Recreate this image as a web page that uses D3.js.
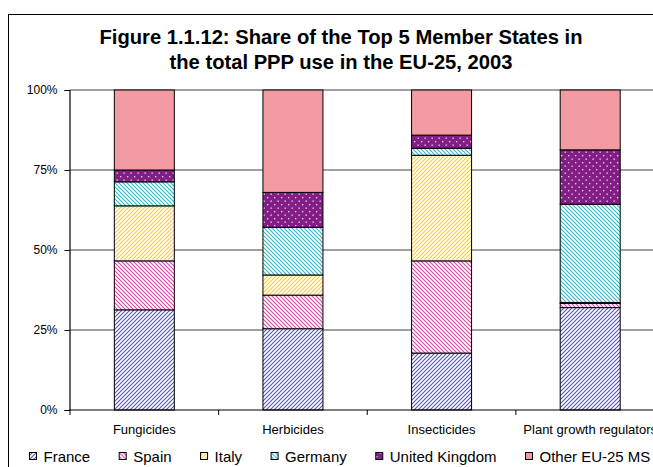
<!DOCTYPE html>
<html lang="en">
<head>
    <meta charset="UTF-8">
    <title>Share of the Top 5 Member States in PPP use</title>
    <script src="https://d3js.org/d3.v7.min.js"></script>
    <style>
        body { margin: 0; background: #fff; }
        svg { display: block; font-family: Arial, "Liberation Sans", sans-serif; }
    </style>
</head>
<body>
<svg id="chart" width="653" height="467"></svg>
<script>
// categories and series (shares in %)
const categories = ["Fungicides", "Herbicides", "Insecticides", "Plant growth regulators"];
const seriesNames = ["France", "Spain", "Italy", "Germany", "United Kingdom", "Other EU-25 MS"];
const france  = [31.3, 25.4, 17.8, 32.0];
const spain   = [15.3, 10.5, 28.8, 1.3];
const italy   = [17.2, 6.3, 33.0, 0.3];
const germany = [7.5, 14.9, 2.2, 30.7];
const uk      = [3.7, 10.9, 4.1, 17.0];
const other   = [25.0, 32.0, 14.1, 18.7];
const yTicks  = [0, 25, 50, 75, 100];
const titleLines = ["Figure 1.1.12: Share of the Top 5 Member States in", "the total PPP use in the EU-25, 2003"];

const svg = d3.select("#chart");

// table for the stack
const values = [france, spain, italy, germany, uk, other];
const table = categories.map((c, i) => {
    const row = { cat: c };
    seriesNames.forEach((s, j) => row[s] = values[j][i]);
    return row;
});
const stacked = d3.stack().keys(seriesNames)(table);

// patterns
const defs = svg.append("defs");
function hatch(id, color, dir) {
    const p = defs.append("pattern").attr("id", id)
        .attr("patternUnits", "userSpaceOnUse").attr("width", 4).attr("height", 4);
    p.append("rect").attr("width", 4).attr("height", 4).attr("fill", "#fff");
    const d = dir === "up"
        ? "M-1,1 L1,-1 M0,4 L4,0 M3,5 L5,3"
        : "M-1,3 L1,5 M0,0 L4,4 M3,-1 L5,1";
    p.append("path").attr("d", d).attr("stroke", color).attr("stroke-width", 1.1);
}
hatch("pFrance", "#5353a6", "up");
hatch("pSpain", "#d645ab", "down");
hatch("pItaly", "#f7d030", "up");
hatch("pGermany", "#36b5c8", "down");
const dots = defs.append("pattern").attr("id", "pUK")
    .attr("patternUnits", "userSpaceOnUse").attr("width", 7).attr("height", 7);
dots.append("rect").attr("width", 7).attr("height", 7).attr("fill", "#831e86");
dots.append("rect").attr("x", 1).attr("y", 1).attr("width", 1.3).attr("height", 1.3).attr("fill", "#f2d9f2");
dots.append("rect").attr("x", 4.5).attr("y", 4.5).attr("width", 1.3).attr("height", 1.3).attr("fill", "#f2d9f2");

const fills = {
    "France": "url(#pFrance)",
    "Spain": "url(#pSpain)",
    "Italy": "url(#pItaly)",
    "Germany": "url(#pGermany)",
    "United Kingdom": "url(#pUK)",
    "Other EU-25 MS": "#f39ba2"
};

// outer frame
svg.append("rect")
    .attr("x", 8.5).attr("y", 14.5).attr("width", 700).attr("height", 500)
    .attr("fill", "none").attr("stroke", "#000").attr("stroke-width", 1);

// title
svg.append("text")
    .attr("x", 341).attr("y", 44)
    .attr("text-anchor", "middle")
    .style("font-size", "20.2px").style("font-weight", "bold")
    .selectAll("tspan").data(titleLines).join("tspan")
    .attr("x", 341).attr("dy", (d, i) => i === 0 ? 0 : 25)
    .text(d => d);

// scales
const plot = { left: 70, right: 664.5, top: 90, bottom: 410 };
const x = d3.scaleBand().domain(categories).range([plot.left, plot.right]).padding(0);
const y = d3.scaleLinear().domain([0, 100]).range([plot.bottom, plot.top]);
const barW = 60;

// gridlines
svg.append("g").selectAll("line").data(yTicks.filter(t => t > 0)).join("line")
    .attr("x1", plot.left).attr("x2", plot.right)
    .attr("y1", d => y(d)).attr("y2", d => y(d))
    .attr("stroke", "#808080").attr("stroke-width", 1.5);

// bars
svg.append("g").selectAll("g").data(stacked).join("g")
    .attr("fill", d => fills[d.key])
    .selectAll("rect").data(d => d).join("rect")
    .attr("x", d => x(d.data.cat) + (x.bandwidth() - barW) / 2)
    .attr("y", d => y(d[1]))
    .attr("width", barW)
    .attr("height", d => y(d[0]) - y(d[1]))
    .attr("stroke", "#000").attr("stroke-width", 1);

// y axis
const yAxis = svg.append("g")
    .attr("transform", `translate(${plot.left - 0.5},0)`)
    .call(d3.axisLeft(y).tickValues(yTicks).tickSize(5).tickPadding(7).tickFormat(d => d + "%"));
yAxis.select(".domain").attr("stroke", "#000").attr("stroke-width", 1.2);
yAxis.selectAll(".tick line").attr("stroke", "#000");
yAxis.selectAll("text").style("font-size", "12px").attr("fill", "#000").attr("font-family", null);

// x axis: ticks at band boundaries
const xg = svg.append("g").attr("transform", `translate(0,${plot.bottom})`);
xg.append("line").attr("x1", plot.left - 1).attr("x2", plot.right)
    .attr("stroke", "#000").attr("stroke-width", 1.2);
xg.selectAll("line.tk").data(categories).join("line").attr("class", "tk")
    .attr("x1", d => x(d)).attr("x2", d => x(d))
    .attr("y1", 0).attr("y2", 5).attr("stroke", "#000");
xg.selectAll("text").data(categories).join("text")
    .attr("x", d => x(d) + x.bandwidth() / 2)
    .attr("y", 24)
    .attr("text-anchor", "middle")
    .style("font-size", "13px")
    .text(d => d);

// legend, laid out in a row
const legend = svg.append("g").attr("transform", "translate(29,0)");
let lx = 0;
seriesNames.forEach(name => {
    const item = legend.append("g").attr("transform", `translate(${lx},0)`);
    item.append("rect").attr("x", 0.5).attr("y", 452.5).attr("width", 7).attr("height", 7)
        .attr("fill", fills[name]).attr("stroke", "#000").attr("stroke-width", 1);
    const t = item.append("text").attr("x", 14.5).attr("y", 461.5)
        .style("font-size", "15px").text(name);
    lx += 14.5 + t.node().getComputedTextLength() + 28.5;
});
</script>
</body>
</html>
